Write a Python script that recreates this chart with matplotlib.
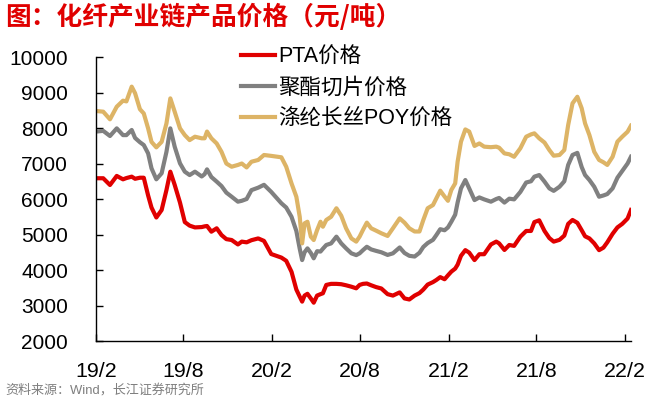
import matplotlib
matplotlib.use("Agg")
import matplotlib.pyplot as plt
import pandas as pd

dates = [
    "2019-02-01", "2019-02-16", "2019-03-02", "2019-03-16", "2019-03-29", "2019-04-05",
    "2019-04-16", "2019-04-23", "2019-05-03", "2019-05-11", "2019-05-20", "2019-05-27",
    "2019-06-06", "2019-06-17", "2019-06-27", "2019-07-05", "2019-07-14", "2019-07-25",
    "2019-08-04", "2019-08-14", "2019-08-25", "2019-09-08", "2019-09-14", "2019-09-19",
    "2019-09-28", "2019-10-09", "2019-10-19", "2019-10-29", "2019-11-09", "2019-11-22",
    "2019-11-30", "2019-12-10", "2019-12-20", "2020-01-03", "2020-01-15", "2020-01-30",
    "2020-02-20", "2020-03-01", "2020-03-12", "2020-03-22", "2020-03-29", "2020-04-03",
    "2020-04-08", "2020-04-14", "2020-04-21", "2020-04-27", "2020-05-04", "2020-05-11",
    "2020-05-16", "2020-05-23", "2020-06-02", "2020-06-13", "2020-06-23", "2020-07-03",
    "2020-07-14", "2020-07-24", "2020-07-31", "2020-08-07", "2020-08-15", "2020-08-24",
    "2020-09-03", "2020-09-14", "2020-09-27", "2020-10-08", "2020-10-22", "2020-11-01",
    "2020-11-11", "2020-11-22", "2020-12-02", "2020-12-10", "2020-12-19", "2020-12-30",
    "2021-01-06", "2021-01-14", "2021-01-23", "2021-01-30", "2021-02-06", "2021-02-14",
    "2021-02-19", "2021-02-26", "2021-03-07", "2021-03-15", "2021-03-26", "2021-04-05",
    "2021-04-15", "2021-04-29", "2021-05-10", "2021-05-16", "2021-05-27", "2021-06-06",
    "2021-06-16", "2021-06-29", "2021-07-11", "2021-07-21", "2021-07-28", "2021-08-07",
    "2021-08-18", "2021-08-28", "2021-09-06", "2021-09-18", "2021-09-28", "2021-10-06",
    "2021-10-15", "2021-10-25", "2021-11-03", "2021-11-10", "2021-11-19", "2021-11-29",
    "2021-12-09", "2021-12-18", "2021-12-26", "2022-01-06", "2022-01-16", "2022-01-26",
    "2022-02-06", "2022-02-13",
]

pta = [
    6585, 6585, 6395, 6650, 6555, 6590, 6630, 6570, 6600, 6600, 6100, 5760,
    5480, 5690, 6255, 6770, 6400, 5900, 5350, 5250, 5200, 5210, 5230, 5240,
    5080, 5175, 4985, 4870, 4845, 4720, 4800, 4780, 4840, 4890, 4820, 4450,
    4350, 4260, 3950, 3450, 3250, 3110, 3280, 3330, 3200, 3080, 3280, 3320,
    3345, 3580, 3610, 3610, 3600, 3570, 3530, 3485, 3580, 3610, 3620, 3570,
    3520, 3480, 3320, 3280, 3370, 3200, 3170, 3280, 3350, 3450, 3590, 3660,
    3720, 3800, 3740, 3850, 3955, 4040, 4150, 4400, 4560, 4490, 4280, 4445,
    4445, 4720, 4800, 4750, 4565, 4705, 4680, 4940, 5100, 5100, 5350, 5400,
    5100, 4900, 4800, 4850, 4970, 5300, 5410, 5330, 5120, 4950, 4890, 4750,
    4560, 4630, 4780, 5020, 5200, 5300, 5450, 5690,
]

chips = [
    7900, 7920, 7775, 7990, 7800, 7800, 7945, 7720, 7600, 7520, 7285, 6865,
    6555, 6725, 7330, 7990, 7475, 7005, 6770, 6675, 6770, 6635, 6700, 6835,
    6620, 6490, 6365, 6180, 6065, 5925, 5950, 6000, 6250, 6320, 6400, 6200,
    5880, 5760, 5500, 5100, 4600, 4280, 4500, 4610, 4480, 4330, 4530, 4520,
    4600, 4705, 4750, 4940, 4750, 4610, 4470, 4420, 4470, 4560, 4655, 4580,
    4540, 4500, 4425, 4470, 4635, 4480, 4400, 4380, 4485, 4650, 4760, 4850,
    4985, 5150, 5120, 5200, 5360, 5560, 5900, 6300, 6535, 6300, 5970, 6045,
    5990, 5925, 6000, 6030, 5900, 6010, 5990, 6200, 6465, 6500, 6630, 6675,
    6490, 6300, 6230, 6345, 6500, 6960, 7240, 7300, 6900, 6675, 6535, 6345,
    6065, 6100, 6140, 6300, 6600, 6790, 7000, 7190,
]

poy = [
    8480, 8460, 8245, 8600, 8770, 8750, 9165, 8980, 8530, 8410, 7990, 7610,
    7455, 7610, 8130, 8835, 8460, 7990, 7800, 7660, 7755, 7710, 7710, 7900,
    7710, 7565, 7330, 7000, 6910, 6960, 7000, 6890, 7050, 7100, 7240, 7215,
    7175, 6910, 6440, 6065, 5500, 4750, 5315, 5360, 4940, 4845, 5125, 5360,
    5220, 5410, 5500, 5740, 5530, 5175, 4890, 4800, 4940, 5130, 5335, 5175,
    5110, 5035, 4960, 5175, 5455, 5335, 5175, 5085, 5085, 5410, 5740, 5830,
    6020, 6235, 6070, 5950, 6255, 6440, 7050, 7615, 7960, 7900, 7495, 7565,
    7475, 7460, 7475, 7445, 7285, 7260, 7190, 7430, 7755, 7820, 7850, 7710,
    7590, 7380, 7220, 7240, 7380, 8085, 8695, 8880, 8555, 8130, 7800, 7330,
    7100, 7035, 6960, 7190, 7615, 7755, 7895, 8065,
]

series_names = ["PTA价格", "聚酯切片价格", "涤纶长丝POY价格"]
tick_dates = ["2019-02-01", "2019-08-01", "2020-02-01", "2020-08-01",
              "2021-02-01", "2021-08-01", "2022-02-01"]
tick_labels = ["19/2", "19/8", "20/2", "20/8", "21/2", "21/8", "22/2"]
y_ticks = [2000, 3000, 4000, 5000, 6000, 7000, 8000, 9000, 10000]

plt.rcParams["font.family"] = ["Liberation Sans", "Noto Sans CJK SC"]

x = pd.to_datetime(dates)

fig = plt.figure(figsize=(6.56, 3.97), dpi=100)
ax = fig.add_axes([0.1463, 0.141, 0.8155, 0.7154])

colors = ["#E00000", "#808080", "#DDB466"]
lines = []
for vals, c in zip([pta, chips, poy], colors):
    ln, = ax.plot(x, vals, color=c, lw=3, solid_joinstyle="round")
    lines.append(ln)

ax.set_ylim(2000, 10000)
ax.set_yticks(y_ticks)
ax.set_xlim(pd.Timestamp("2019-02-01"), pd.Timestamp("2022-02-13"))
ax.set_xticks(pd.to_datetime(tick_dates))
ax.set_xticklabels(tick_labels)

for s in ["top", "right"]:
    ax.spines[s].set_visible(False)
for s in ["left", "bottom"]:
    ax.spines[s].set_linewidth(1)
    ax.spines[s].set_color("black")

ax.tick_params(axis="y", direction="in", length=5, width=1, labelsize=15, pad=20)
ax.tick_params(axis="x", direction="in", length=5, width=1, labelsize=15.4, pad=15)

fig.legend(lines, series_names, loc="upper left", bbox_to_anchor=(0.368, 0.882),
           frameon=False, fontsize=15.5, handlelength=1.55, handletextpad=0.15,
           labelspacing=0.45, borderpad=0, borderaxespad=0)

fig.text(0.008, 0.955, "图：化纤产业链产品价格（元/吨）", color="#E00000",
         fontsize=18.5, fontweight="bold", family=["Noto Sans CJK SC"],
         va="center", ha="left")
fig.text(0.008, 0.018, "资料来源：Wind，长江证券研究所", color="#7F7F7F",
         fontsize=9.4, va="center", ha="left")

fig.savefig("out.png", dpi=100)
